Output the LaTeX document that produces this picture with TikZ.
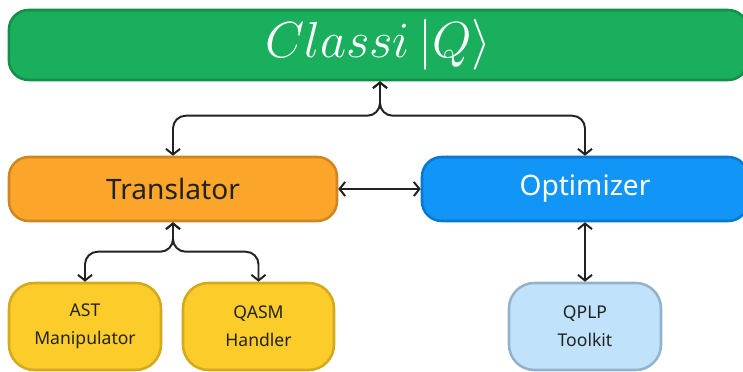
\documentclass[tikz,border=0pt]{standalone}
\usepackage{fontspec}
\setmainfont{Noto Sans}
\usepackage{tikz}
\usepackage{xcolor}
\usetikzlibrary{arrows.meta,positioning}
\definecolor{cqGreen}{HTML}{19AF5D}
\definecolor{cqGreenLine}{HTML}{138F4A}
\definecolor{cqOrange}{HTML}{FBA62A}
\definecolor{cqOrangeLine}{HTML}{CF8622}
\definecolor{cqBlue}{HTML}{1195F7}
\definecolor{cqBlueLine}{HTML}{0B77CE}
\definecolor{cqYellow}{HTML}{FCCC2A}
\definecolor{cqYellowLine}{HTML}{D4A91E}
\definecolor{cqSky}{HTML}{C0E2FB}
\definecolor{cqSkyLine}{HTML}{94B3CB}
\definecolor{cqInk}{HTML}{222222}
\tikzset{
  box/.style={rounded corners=14pt,line width=1.8pt,align=center,inner sep=0pt,
              text=cqInk,font=\fontsize{20}{24}\selectfont},
  top/.style={box,fill=cqGreen,draw=cqGreenLine,text=white,
              minimum width=18.475cm,minimum height=1.75cm,font=\fontsize{29}{34}\selectfont},
  mid/.style={box,minimum width=8.2cm,minimum height=1.6cm},
  leaf/.style={box,rounded corners=18pt,minimum width=3.8cm,minimum height=2.175cm,
               fill=cqYellow,draw=cqYellowLine,font=\fontsize{12.5}{20}\selectfont},
  arr/.style={{Straight Barb[length=4pt,width=10pt]}-{Straight Barb[length=4pt,width=10pt]},
              draw=cqInk,line width=1.4pt,rounded corners=9pt},
}

\begin{document}
\begin{tikzpicture}
    \useasboundingbox (0,0) rectangle (18.575,9.3);
    \clip (0,0) rectangle (18.575,9.3);
    \node[top] at (9.46,8.175) (cls) {\scalebox{1.45}{$Classi\,|Q\rangle$}};
    \node[mid,fill=cqOrange,draw=cqOrangeLine] at (4.325,4.575) (trans) {Translator};
    \node[mid,fill=cqBlue,draw=cqBlueLine,text=white,minimum width=8.15cm] at (14.625,4.575) (opt) {Optimizer};
    \node[leaf] at (2.125,1.1375) (ast) {AST\\Manipulator};
    \node[leaf,minimum width=3.775cm] at (6.4625,1.1375) (qasm) {QASM\\Handler};
    \node[leaf,fill=cqSky,draw=cqSkyLine] at (14.625,1.1375) (qplp) {QPLP\\Toolkit};

    \coordinate (hub) at ([xshift=0.04cm]cls.south);
    \draw[arr] (trans.north) -- ++(0,1) -| (hub);
    \draw[arr] (opt.north) -- ++(0,1) -| (hub);
    \draw[arr] (trans.east) -- (opt.west);
    \draw[arr] (ast.north) -- ++(0,0.75) -| (trans.south);
    \draw[arr] (qasm.north) -- ++(0,0.75) -| (trans.south);
    \draw[arr] (opt.south) -- (qplp.north);
  \end{tikzpicture}
\end{document}
